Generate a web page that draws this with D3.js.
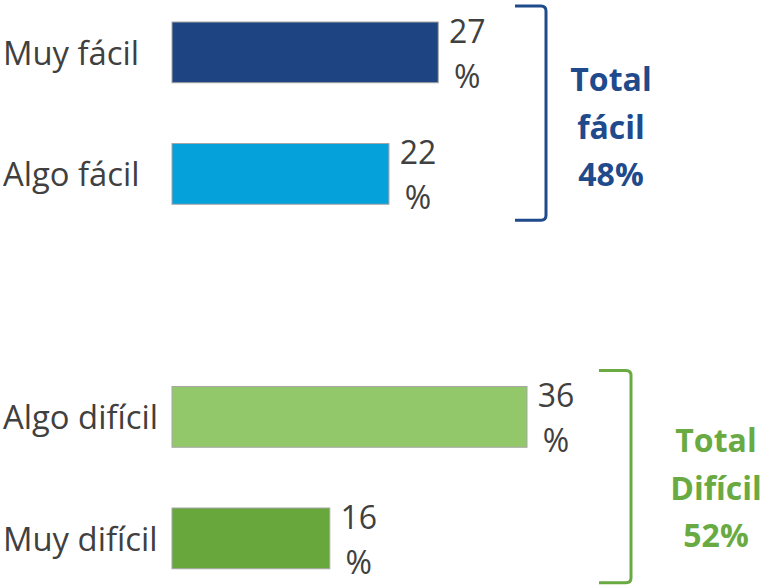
<!DOCTYPE html>
<html>
<head>
<meta charset="utf-8">
<script src="https://cdn.jsdelivr.net/npm/d3@7"></script>
<style>
  html, body { margin: 0; padding: 0; background: #fff; }
  svg { display: block; }
</style>
</head>
<body>
<svg id="chart" width="765" height="585"></svg>
<script>
// ---- data ----
const categories = ["Muy fácil", "Algo fácil", "Algo difícil", "Muy difícil"];
const values = [27, 22, 36, 16];
const barColors = ["#1F4482", "#05A1DA", "#92C76A", "#67A73C"];
const groupNames = [["Total", "fácil"], ["Total", "Difícil"]];
const groupTotals = [48, 52];
const groupMembers = [["Muy fácil", "Algo fácil"], ["Algo difícil", "Muy difícil"]];
const groupColors = ["#1F4A8C", "#6AAA42"];

// ---- layout ----
const svg = d3.select("#chart");
const bandDomain = [categories[0], categories[1], "__gap__", categories[2], categories[3]];

const x = d3.scaleLinear().domain([0, 36]).range([172, 527]);
const y = d3.scaleBand().domain(bandDomain).range([22, 568.75]).paddingInner(0.5).paddingOuter(0);

const data = categories.map((c, i) => ({ cat: c, value: values[i], color: barColors[i] }));
const textColor = "#404040";
const font = "'Open Sans', 'DejaVu Sans', sans-serif";

// category labels
svg.append("g").selectAll("text").data(data).join("text")
  .attr("x", 3)
  .attr("y", d => y(d.cat) + y.bandwidth() / 2 + 12.5)
  .attr("font-family", font)
  .attr("font-size", 32.8)
  .attr("fill", textColor)
  .text(d => d.cat);

// bars
svg.append("g").selectAll("rect").data(data).join("rect")
  .attr("x", x(0))
  .attr("y", d => y(d.cat))
  .attr("width", d => x(d.value) - x(0))
  .attr("height", y.bandwidth())
  .attr("fill", d => d.color)
  .attr("stroke", "#A6A6A6")
  .attr("stroke-width", 1);

// value labels (wrapped "27" / "%")
const vl = svg.append("g").selectAll("text").data(data).join("text")
  .attr("font-family", font)
  .attr("font-size", 32)
  .attr("fill", textColor)
  .attr("text-anchor", "middle");
vl.append("tspan")
  .attr("x", d => x(d.value) + 29)
  .attr("y", d => y(d.cat) + y.bandwidth() / 2 - 9.5)
  .text(d => d.value);
vl.append("tspan")
  .attr("x", d => x(d.value) + 29)
  .attr("y", d => y(d.cat) + y.bandwidth() / 2 + 35.5)
  .text("%");

// brackets + totals
const bracketX = [546, 631];
const bracketLeft = [515, 599];
const bracketPad = [[16, 16], [16, 14]];
const totalX = [611, 716];
const totalBase = [91, 452];

groupMembers.forEach((members, gi) => {
  const top = y(members[0]) - bracketPad[gi][0];
  const bot = y(members[members.length - 1]) + y.bandwidth() + bracketPad[gi][1];
  const xv = bracketX[gi], xl = bracketLeft[gi], r = 5;
  const p = d3.path();
  p.moveTo(xl, top);
  p.lineTo(xv - r, top);
  p.quadraticCurveTo(xv, top, xv, top + r);
  p.lineTo(xv, bot - r);
  p.quadraticCurveTo(xv, bot, xv - r, bot);
  p.lineTo(xl, bot);
  svg.append("path")
    .attr("d", p.toString())
    .attr("fill", "none")
    .attr("stroke", groupColors[gi])
    .attr("stroke-width", 3);

  const lines = [...groupNames[gi], groupTotals[gi] + "%"];
  const t = svg.append("text")
    .attr("font-family", font)
    .attr("font-size", 32)
    .attr("font-weight", "bold")
    .attr("fill", groupColors[gi])
    .attr("text-anchor", "middle");
  lines.forEach((ln, li) => {
    t.append("tspan")
      .attr("x", totalX[gi])
      .attr("y", totalBase[gi] + li * 47.5)
      .text(ln);
  });
});
</script>
</body>
</html>
